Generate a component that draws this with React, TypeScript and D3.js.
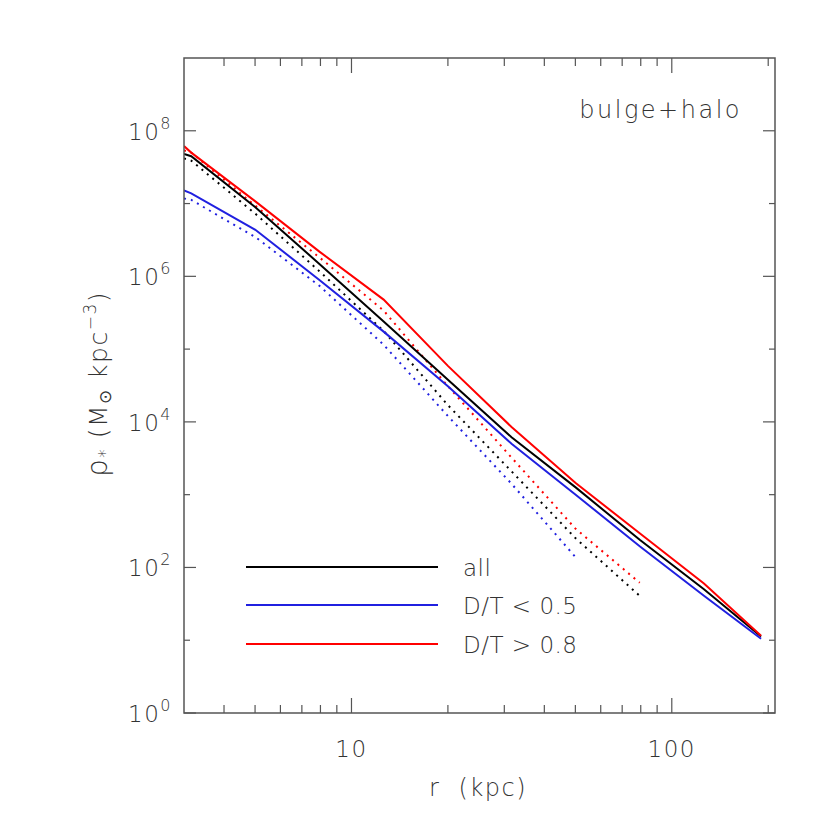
import React from "react";
import * as d3 from "d3";

// radii (kpc) of the profile points
const radiiSolid = [3, 3.16, 5.01, 7.94, 12.6, 20.0, 31.6, 50.1, 79.4, 126, 190];
const radiiDotted = [3, 3.16, 5.01, 7.94, 12.6, 20.0, 31.6, 50.1, 79.4];
// log10 densities (M_sun kpc^-3)
const allSolid = [7.68, 7.65, 6.95, 6.17, 5.38, 4.58, 3.79, 3.10, 2.38, 1.70, 1.05];
const lowDTSolid = [7.18, 7.14, 6.64, 5.95, 5.24, 4.49, 3.70, 3.00, 2.29, 1.61, 1.02];
const highDTSolid = [7.79, 7.70, 7.03, 6.34, 5.68, 4.77, 3.93, 3.16, 2.47, 1.78, 1.06];
const allDotted = [7.62, 7.59, 6.86, 6.07, 5.25, 4.23, 3.32, 2.40, 1.61];
const lowDTDotted = [7.07, 7.05, 6.54, 5.87, 5.06, 4.08, 3.15, 2.14];
const highDTDotted = [7.73, 7.70, 6.97, 6.26, 5.53, 4.49, 3.51, 2.53, 1.79];

const legendLabels = ["all", "D/T < 0.5", "D/T > 0.8"];
const seriesColors = ["#000000", "#2020e0", "#ff0000"];
const xMajorTicks = [10, 100];
const xMinorTicks = [4, 5, 6, 7, 8, 9, 20, 30, 40, 50, 60, 70, 80, 90, 200];
const yMajorExp = [0, 2, 4, 6, 8];
const yMinorExp = [1, 3, 5, 7];

const L = 184, R = 775, T = 58, B = 713;
const axisColor = "#555";
const textColor = "#333";
const font = "'DejaVu Sans', 'Liberation Sans', sans-serif";
const fs = 23;

export default function App() {
  const x = d3.scaleLog().domain([3, 210]).range([L, R]);
  const y = d3.scaleLog().domain([1, 1e9]).range([B, T]);

  const mk = (rs: number[], vs: number[]) =>
    d3
      .line<number>()
      .x((_, i) => x(rs[i]))
      .y((v) => y(Math.pow(10, v)))(vs) || "";

  const solids = [allSolid, lowDTSolid, highDTSolid];
  const dotted = [allDotted, lowDTDotted, highDTDotted];
  const legendY = [567, 605, 644];

  const txt = (ls: number) => ({ fontFamily: font, fontWeight: 200, fill: textColor, letterSpacing: ls } as any);

  return (
    <svg
      width={830}
      height={830}
      style={{ position: "absolute", left: 0, top: 0, background: "#fff" }}
    >
      <defs>
        <clipPath id="plotclip">
          <rect x={L} y={T} width={R - L} height={B - T} />
        </clipPath>
      </defs>
      <g clipPath="url(#plotclip)">
        {dotted.map((vs, k) => (
          <path
            key={"d" + k}
            d={mk(radiiDotted.slice(0, vs.length), vs)}
            fill="none"
            stroke={seriesColors[k]}
            strokeWidth={2}
            strokeDasharray="2 5"
          />
        ))}
        {solids.map((vs, k) => (
          <path
            key={"s" + k}
            d={mk(radiiSolid, vs)}
            fill="none"
            stroke={seriesColors[k]}
            strokeWidth={2}
          />
        ))}
      </g>
      {/* frame */}
      <rect x={L} y={T} width={R - L} height={B - T} fill="none" stroke={axisColor} strokeWidth={1.5} />
      {/* x ticks */}
      {xMajorTicks.map((t) => (
        <g key={"xM" + t}>
          <line x1={x(t)} x2={x(t)} y1={B} y2={B - 15} stroke={axisColor} strokeWidth={1.2} />
          <line x1={x(t)} x2={x(t)} y1={T} y2={T + 15} stroke={axisColor} strokeWidth={1.2} />
          <text x={x(t)} y={757} textAnchor="middle" fontSize={fs} {...txt(1.5)}>
            {t}
          </text>
        </g>
      ))}
      {xMinorTicks.map((t) => (
        <g key={"xm" + t}>
          <line x1={x(t)} x2={x(t)} y1={B} y2={B - 8} stroke={axisColor} strokeWidth={1.2} />
          <line x1={x(t)} x2={x(t)} y1={T} y2={T + 8} stroke={axisColor} strokeWidth={1.2} />
        </g>
      ))}
      {/* y ticks */}
      {yMajorExp.map((e) => (
        <g key={"yM" + e}>
          <line x1={L} x2={L + 12} y1={y(Math.pow(10, e))} y2={y(Math.pow(10, e))} stroke={axisColor} strokeWidth={1.2} />
          <line x1={R} x2={R - 12} y1={y(Math.pow(10, e))} y2={y(Math.pow(10, e))} stroke={axisColor} strokeWidth={1.2} />
          <text x={172} y={y(Math.pow(10, e)) + 9} textAnchor="end" fontSize={fs} {...txt(1.5)}>
            10
            <tspan fontSize={16} dy={-11}>{e}</tspan>
          </text>
        </g>
      ))}
      {yMinorExp.map((e) => (
        <g key={"ym" + e}>
          <line x1={L} x2={L + 6} y1={y(Math.pow(10, e))} y2={y(Math.pow(10, e))} stroke={axisColor} strokeWidth={1.2} />
          <line x1={R} x2={R - 6} y1={y(Math.pow(10, e))} y2={y(Math.pow(10, e))} stroke={axisColor} strokeWidth={1.2} />
        </g>
      ))}
      {/* axis titles */}
      <text x={478} y={796} textAnchor="middle" fontSize={24} {...txt(1.5)} style={{ whiteSpace: "pre" }}>
        {"r  (kpc)"}
      </text>
      <text
        transform="translate(107,384) rotate(-90)"
        textAnchor="middle"
        fontSize={25}
        {...txt(1.5)}
        style={{ whiteSpace: "pre" }}
      >
        <tspan fontSize={28}>ρ</tspan>
        <tspan fontSize={17} dy={4}>*</tspan>
        <tspan dy={-4}>{" (M"}</tspan>
        <tspan fontSize={17} dy={4}>⊙</tspan>
        <tspan dy={-4}>{" kpc"}</tspan>
        <tspan fontSize={17} dy={-11}>−3</tspan>
        <tspan dy={11}>)</tspan>
      </text>
      {/* annotation */}
      <text x={742} y={118} textAnchor="end" fontSize={24} {...txt(2.5)}>
        bulge+halo
      </text>
      {/* legend */}
      {legendLabels.map((lab, k) => (
        <g key={"lg" + k}>
          <line x1={246} x2={438} y1={legendY[k]} y2={legendY[k]} stroke={seriesColors[k]} strokeWidth={2} />
          <text x={463} y={legendY[k] + 9} fontSize={fs} {...txt(0.5)} style={{ whiteSpace: "pre" }}>
            {lab}
          </text>
        </g>
      ))}
    </svg>
  );
}
